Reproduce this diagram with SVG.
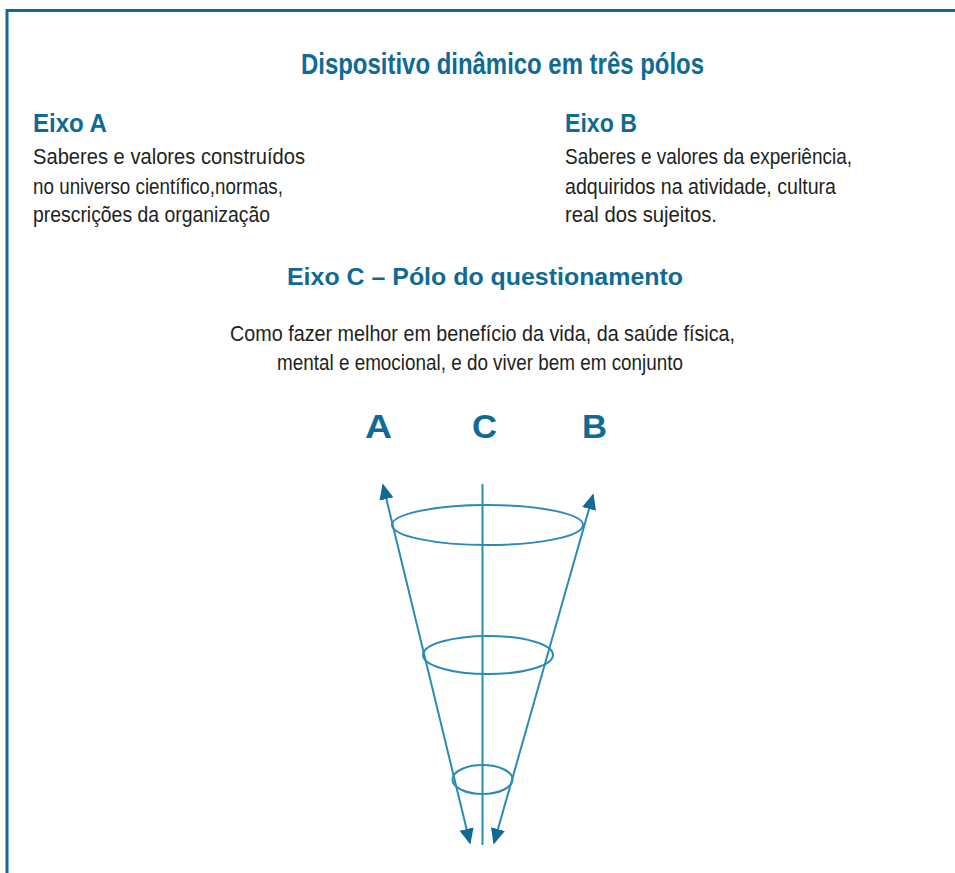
<svg xmlns="http://www.w3.org/2000/svg" width="955" height="873" viewBox="0 0 955 873">
<style>
.h{font-family:"Liberation Sans",Arial,sans-serif;font-weight:bold;fill:#0f6a94}
.t{font-family:"Liberation Sans",Arial,sans-serif;fill:#231f20;font-size:22.5px}
.ln{stroke:#2b8bb6;stroke-width:2;fill:none}
.lt{font-family:"Liberation Sans",Arial,sans-serif;font-weight:bold;fill:#0f6a94;font-size:34px}
</style>
<defs>
<marker id="ah" viewBox="0 0 10 10" refX="9" refY="5" markerWidth="8" markerHeight="8" orient="auto" markerUnits="strokeWidth">
<path d="M0,0.5 L10,5 L0,9.5 Z" fill="#0f6a94"/>
</marker>
</defs>
<rect width="955" height="873" fill="#ffffff"/>
<path d="M7,873 L7,10.5 L955,10.5" stroke="#0f6a94" stroke-width="3" fill="none"/>
<g id="title">
<text class="h" x="301" y="74" font-size="29" textLength="403" lengthAdjust="spacingAndGlyphs">Dispositivo dinâmico em três pólos</text>
</g>
<g id="eixoA">
<text class="h" x="33" y="132" font-size="25" textLength="74" lengthAdjust="spacingAndGlyphs">Eixo A</text>
<text class="t" x="33" y="164" textLength="272" lengthAdjust="spacingAndGlyphs">Saberes e valores construídos</text>
<text class="t" x="33" y="194" textLength="250" lengthAdjust="spacingAndGlyphs">no universo científico,normas,</text>
<text class="t" x="33" y="222" textLength="237" lengthAdjust="spacingAndGlyphs">prescrições da organização</text>
</g>
<g id="eixoB">
<text class="h" x="565" y="132" font-size="25" textLength="72" lengthAdjust="spacingAndGlyphs">Eixo B</text>
<text class="t" x="565" y="164" textLength="287" lengthAdjust="spacingAndGlyphs">Saberes e valores da experiência,</text>
<text class="t" x="565" y="194" textLength="271" lengthAdjust="spacingAndGlyphs">adquiridos na atividade, cultura</text>
<text class="t" x="565" y="222" textLength="152" lengthAdjust="spacingAndGlyphs">real dos sujeitos.</text>
</g>
<g id="eixoC">
<text class="h" x="287" y="285" font-size="24" textLength="396" lengthAdjust="spacingAndGlyphs">Eixo C – Pólo do questionamento</text>
<text class="t" x="230" y="341" textLength="505" lengthAdjust="spacingAndGlyphs">Como fazer melhor em benefício da vida, da saúde física,</text>
<text class="t" x="277" y="370" textLength="406" lengthAdjust="spacingAndGlyphs">mental e emocional, e do viver bem em conjunto</text>
</g>
<g id="labels">
<text class="lt" x="365" y="438" textLength="27" lengthAdjust="spacingAndGlyphs">A</text>
<text class="lt" x="472" y="438" textLength="25" lengthAdjust="spacingAndGlyphs">C</text>
<text class="lt" x="582" y="438" textLength="25" lengthAdjust="spacingAndGlyphs">B</text>
</g>
<g id="cone">
<ellipse class="ln" cx="487.5" cy="525" rx="95.5" ry="20"/>
<ellipse class="ln" cx="488" cy="655" rx="65" ry="19"/>
<ellipse class="ln" cx="482.5" cy="779.5" rx="30" ry="14.5"/>
</g>
<g id="connectors">
<line class="ln" x1="482.5" y1="484" x2="482.5" y2="845"/>
<line class="ln" x1="426.5" y1="664" x2="383" y2="485" marker-end="url(#ah)"/>
<line class="ln" x1="426.5" y1="664" x2="470" y2="843" marker-end="url(#ah)"/>
<line class="ln" x1="543.5" y1="669" x2="593" y2="495" marker-end="url(#ah)"/>
<line class="ln" x1="543.5" y1="669" x2="494" y2="843" marker-end="url(#ah)"/>
</g>
</svg>
